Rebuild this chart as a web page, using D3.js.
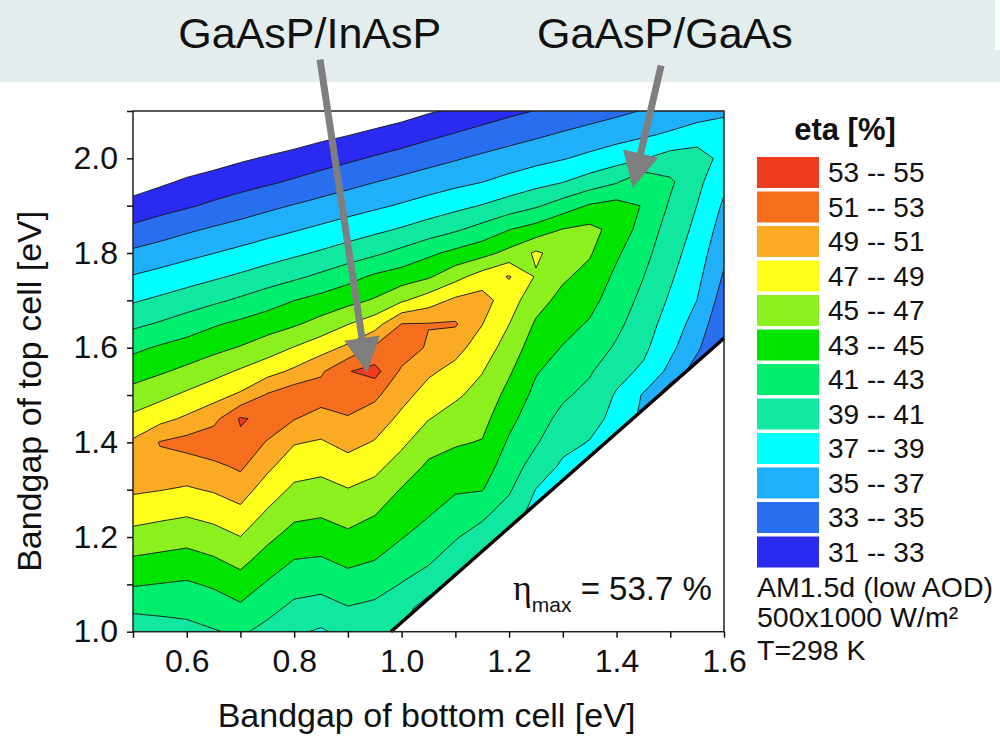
<!DOCTYPE html>
<html>
<head>
<meta charset="utf-8">
<script src="https://cdn.jsdelivr.net/npm/d3@7"></script>
<style>
  body { margin: 0; background: #fff; }
  svg { display: block; font-family: "Liberation Sans", Arial, sans-serif; }
  .tick text { font-family: "Liberation Sans", Arial, sans-serif; font-size: 32px; fill: #111; }
  .tick line { stroke: #111; stroke-width: 1.5; }
</style>
</head>
<body>
<svg width="1000" height="740"></svg>
<script>
// grid of the simulation: bottom cell gap (columns) and top cell gap (rows), eV
const bottomGap = [0.50, 0.55, 0.60, 0.65, 0.70, 0.75, 0.80, 0.85, 0.90, 0.95, 1.00, 1.05,
                   1.10, 1.15, 1.20, 1.25, 1.30, 1.35, 1.40, 1.45, 1.50, 1.55, 1.60];
const topGap = [1.00, 1.05, 1.10, 1.15, 1.20, 1.25, 1.30, 1.35, 1.40, 1.45, 1.50, 1.55,
                1.60, 1.65, 1.70, 1.75, 1.80, 1.85, 1.90, 1.95, 2.00, 2.05, 2.10];

// efficiency [%], one row per top gap (bottom row first)
const etaGrid = [
  [39.7, 40.04, 40.38, 40.86, 41.3, 40.4, 39.3, 38.75, 39.6, 39.8, 39.0, 38.0, 37.5, 37.0, 36.5, 35.5, 35.0, 34.5, 34.0, 33.0, 32.0, 31.5, 31.0],
  [41.4, 41.5, 41.57, 42.02, 42.65, 41.6, 40.55, 40.19, 40.9, 40.57, 39.96, 37.8, 38.0, 37.5, 37.0, 36.0, 35.5, 35.0, 34.5, 33.5, 32.3, 31.8, 31.2],
  [43.16, 42.94, 42.76, 43.24, 44.1, 42.77, 41.75, 41.58, 42.16, 41.77, 40.91, 40.2, 39.2, 38.3, 37.6, 36.5, 36.0, 35.5, 35.0, 34.0, 32.6, 32.1, 31.4],
  [44.7, 44.45, 44.19, 44.73, 45.56, 44.11, 42.93, 42.78, 43.4, 42.98, 42.01, 41.2, 40.17, 39.3, 38.3, 37.0, 36.5, 36.0, 35.5, 34.5, 32.9, 32.4, 31.6],
  [46.3, 45.98, 45.7, 46.19, 46.97, 45.46, 44.22, 44.01, 44.6, 44.03, 43.09, 42.2, 41.14, 40.25, 38.5, 37.6, 37.0, 36.5, 36.0, 35.0, 33.2, 32.7, 31.8],
  [47.84, 47.52, 47.22, 47.68, 48.46, 46.72, 45.46, 45.22, 45.76, 45.1, 43.98, 43.15, 42.18, 41.39, 40.19, 38.2, 37.5, 37.0, 36.5, 35.5, 33.4, 32.95, 32.0],
  [49.3, 49.06, 48.78, 49.19, 49.91, 48.07, 46.61, 46.35, 46.91, 46.32, 44.87, 43.92, 43.2, 43.09, 41.24, 38.95, 38.0, 37.5, 37.0, 36.0, 33.5, 33.3, 32.1],
  [50.6, 50.5, 50.16, 50.58, 51.35, 49.44, 47.85, 47.54, 48.26, 47.57, 46.15, 44.69, 44.2, 44.0, 41.99, 40.18, 38.68, 38.0, 37.5, 36.3, 33.5, 33.6, 32.2],
  [49.3, 51.1, 51.7, 52.4, 52.6, 50.83, 49.14, 48.82, 49.58, 48.87, 47.41, 45.78, 45.2, 44.89, 42.74, 41.19, 39.57, 38.91, 38.0, 36.4, 33.5, 33.8, 32.3],
  [47.45, 48.37, 49.34, 50.35, 53.2, 52.5, 51.1, 50.13, 50.83, 50.02, 48.56, 47.07, 46.24, 45.63, 43.55, 41.84, 40.45, 39.68, 38.44, 36.5, 33.5, 34.0, 32.4],
  [45.73, 46.47, 47.36, 48.31, 49.3, 51.2, 52.3, 51.96, 52.1, 51.4, 49.63, 48.23, 47.29, 46.34, 44.39, 42.48, 41.3, 40.44, 38.8, 36.82, 33.5, 34.0, 32.5],
  [44.16, 44.76, 45.45, 46.29, 47.25, 48.26, 49.38, 50.7, 52.9, 53.7, 50.65, 49.32, 48.42, 47.08, 45.25, 43.16, 42.1, 41.21, 39.67, 38.64, 36.47, 34.0, 32.6],
  [42.55, 43.24, 43.81, 44.45, 45.13, 46.02, 47.09, 48.21, 49.4, 51.3, 52.3, 50.7, 49.64, 48.06, 46.13, 43.95, 42.9, 42.01, 40.76, 39.43, 37.49, 35.36, 32.6],
  [40.57, 41.2, 41.96, 42.78, 43.43, 44.07, 44.75, 45.7, 46.94, 48.12, 51.05, 51.1, 51.2, 49.05, 47.02, 44.75, 43.67, 42.81, 41.44, 39.96, 38.11, 36.18, 33.33],
  [38.8, 39.36, 39.96, 40.62, 41.32, 42.14, 42.98, 43.68, 44.37, 45.2, 46.71, 48.03, 49.4, 49.8, 47.9, 45.74, 44.42, 43.6, 42.01, 40.5, 38.73, 36.98, 34.06],
  [37.13, 37.64, 38.17, 38.72, 39.31, 39.96, 40.63, 41.41, 42.32, 43.33, 43.96, 44.76, 46.33, 47.91, 49.15, 46.83, 45.28, 44.39, 42.58, 41.03, 39.27, 37.5, 34.78],
  [35.39, 35.91, 36.45, 36.97, 37.5, 38.07, 38.64, 39.25, 39.94, 40.65, 41.54, 42.59, 43.5, 44.3, 45.57, 47.3, 46.1, 45.2, 43.3, 41.6, 39.76, 38.0, 35.44],
  [33.41, 34.04, 34.68, 35.24, 35.76, 36.31, 36.83, 37.37, 37.94, 38.54, 39.18, 39.93, 40.71, 41.71, 42.93, 43.79, 45.05, 45.5, 44.4, 42.1, 40.25, 38.5, 36.08],
  [31.67, 32.25, 32.76, 33.35, 33.94, 34.55, 35.1, 35.64, 36.15, 36.66, 37.2, 37.8, 38.43, 39.1, 39.9, 40.74, 41.92, 43.2, 43.7, 42.9, 40.75, 38.97, 36.71],
  [30.0, 30.67, 31.29, 31.78, 32.25, 32.72, 33.26, 33.85, 34.43, 34.97, 35.49, 36.0, 36.5, 36.98, 37.64, 38.32, 38.95, 39.89, 40.83, 42.6, 41.3, 39.5, 37.43],
  [28.3, 29.0, 29.8, 30.2, 30.73, 31.18, 31.63, 32.13, 32.66, 33.21, 33.77, 34.31, 34.83, 35.36, 35.85, 36.37, 36.87, 37.49, 38.18, 38.9, 39.82, 39.9, 38.4],
  [26.7, 27.3, 28.2, 28.5, 29.1, 29.6, 30.0, 30.5, 30.93, 31.43, 31.94, 32.57, 33.14, 33.7, 34.21, 34.7, 35.23, 35.72, 36.21, 36.71, 37.29, 38.02, 38.3],
  [25.0, 25.7, 26.6, 26.9, 27.4, 27.9, 28.3, 28.8, 29.2, 29.7, 30.17, 30.8, 31.3, 32.0, 32.57, 33.05, 33.57, 34.07, 34.57, 35.1, 35.53, 36.03, 36.53]
];

const thresholds = [31, 33, 35, 37, 39, 41, 43, 45, 47, 49, 51, 53];
const bandColors = ['#2a2af0', '#2a6ef0', '#20b0fa', '#00ffff', '#10e8a0', '#00ee6e',
                    '#00e400', '#8cf01e', '#ffff1e', '#faaa23', '#f56e1e', '#f03c1e'];

const xMajor = [0.6, 0.8, 1.0, 1.2, 1.4, 1.6];
const xMinor = [0.5, 0.7, 0.9, 1.1, 1.3, 1.5];
const yMajor = [1.0, 1.2, 1.4, 1.6, 1.8, 2.0];
const yMinor = [1.1, 1.3, 1.5, 1.7, 1.9, 2.1];

// top cell gap must exceed bottom gap: region below this line is empty
const limitLine = [[0.98, 1.0], [1.6, 1.62]];

const notes = [
  {label: 'GaAsP/InAsP', at: [0.829, 2.234], tail: [0.848, 2.209], tip: [0.936, 1.547]},
  {label: 'GaAsP/GaAs', at: [1.49, 2.234], tail: [1.483, 2.196], tip: [1.43, 1.938]}
];
const conditions = ['AM1.5d (low AOD)', '500x1000 W/m²', 'T=298 K'];

const svg = d3.select('svg');

// grey banner on top
svg.append('rect').attr('x', 0).attr('y', 0).attr('width', 1000).attr('height', 82).attr('fill', '#e4eded');
svg.append('rect').attr('x', 995).attr('y', 0).attr('width', 5).attr('height', 50).attr('fill', '#fff');

const pLeft = 133, pRight = 724, pTop = 111, pBottom = 631.7;
const x = d3.scaleLinear().domain([0.5, 1.6]).range([pLeft, pRight]);
const y = d3.scaleLinear().domain([1.0, 2.1]).range([pBottom, pTop]);

// clip: plot box above the limit line
const clipPts = [[0.5, 1.0], limitLine[0], limitLine[1], [1.6, 2.1], [0.5, 2.1]];
svg.append('clipPath').attr('id', 'plotclip')
  .append('path')
  .attr('d', d3.line().x(d => x(d[0])).y(d => y(d[1]))(clipPts) + 'Z');

const nx = bottomGap.length, ny = topGap.length;
const dxs = bottomGap[1] - bottomGap[0], dys = topGap[1] - topGap[0];
const contours = d3.contours().size([nx, ny]).thresholds(thresholds)(etaGrid.flat());

const proj = d3.geoTransform({
  point: function(gx, gy) {
    this.stream.point(x(bottomGap[0] + (gx - 0.5) * dxs), y(topGap[0] + (gy - 0.5) * dys));
  }
});
const path = d3.geoPath(proj);

const chart = svg.append('g').attr('clip-path', 'url(#plotclip)');
chart.selectAll('path.band')
  .data(contours)
  .enter()
  .append('path')
  .attr('class', 'band')
  .attr('d', path)
  .attr('fill', (d, i) => bandColors[i])
  .attr('stroke', '#151515')
  .attr('stroke-width', 0.9)
  .attr('stroke-linejoin', 'round');

// limit line
svg.append('line')
  .attr('x1', x(limitLine[0][0])).attr('y1', y(limitLine[0][1]))
  .attr('x2', x(limitLine[1][0])).attr('y2', y(limitLine[1][1]))
  .attr('stroke', '#000').attr('stroke-width', 3.5);

// frame
svg.append('rect')
  .attr('x', pLeft).attr('y', pTop)
  .attr('width', pRight - pLeft).attr('height', pBottom - pTop)
  .attr('fill', 'none').attr('stroke', '#222').attr('stroke-width', 1.5);

// axes
const gx1 = svg.append('g').attr('transform', `translate(0, ${pBottom})`)
  .call(d3.axisBottom(x).tickValues(xMajor).tickSize(6).tickPadding(12).tickFormat(d3.format('.1f')));
const gx2 = svg.append('g').attr('transform', `translate(0, ${pBottom})`)
  .call(d3.axisBottom(x).tickValues(xMinor).tickSize(6).tickFormat(''));
const gy1 = svg.append('g').attr('transform', `translate(${pLeft}, 0)`)
  .call(d3.axisLeft(y).tickValues(yMajor).tickSize(6).tickPadding(9).tickFormat(d3.format('.1f')));
const gy2 = svg.append('g').attr('transform', `translate(${pLeft}, 0)`)
  .call(d3.axisLeft(y).tickValues(yMinor).tickSize(6).tickFormat(''));
[gx1, gx2, gy1, gy2].forEach(g => g.select('.domain').remove());

svg.append('text')
  .attr('x', (pLeft + pRight) / 2 - 2).attr('y', 727)
  .attr('text-anchor', 'middle')
  .attr('font-size', 34).attr('fill', '#111')
  .text('Bandgap of bottom cell [eV]');

svg.append('text')
  .attr('transform', `translate(41, ${(pTop + pBottom) / 2 + 20}) rotate(-90)`)
  .attr('text-anchor', 'middle')
  .attr('font-size', 34).attr('fill', '#111')
  .text('Bandgap of top cell [eV]');

// eta max label
const em = svg.append('text').attr('x', 513).attr('y', 600).attr('font-size', 33).attr('fill', '#111');
em.append('tspan').attr('font-family', '"Liberation Serif", serif').attr('font-size', 36).text('η');
em.append('tspan').attr('font-size', 21).attr('dy', 12).text('max');
em.append('tspan').attr('dy', -12).text(' = 53.7 %');

// legend
const legend = svg.append('g');
legend.append('text')
  .attr('x', 845).attr('y', 140)
  .attr('text-anchor', 'middle')
  .attr('font-size', 31).attr('font-weight', 'bold').attr('fill', '#111')
  .text('eta [%]');

const rows = thresholds.slice().reverse();
const legendRows = legend.selectAll('g.row')
  .data(rows)
  .enter()
  .append('g')
  .attr('class', 'row')
  .attr('transform', (d, i) => `translate(757, ${157 + i * 34.5})`);

legendRows.append('rect')
  .attr('width', 62).attr('height', 31)
  .attr('fill', d => bandColors[thresholds.indexOf(d)]);

legendRows.append('text')
  .attr('x', 71).attr('y', 25)
  .attr('font-size', 28).attr('fill', '#111')
  .text(d => `${d} -- ${d + 2}`);

legend.selectAll('text.cond')
  .data(conditions)
  .enter()
  .append('text')
  .attr('class', 'cond')
  .attr('x', 757)
  .attr('y', (d, i) => [597, 627, 660][i])
  .attr('font-size', 28.5).attr('fill', '#111')
  .text(d => d);

// arrows with labels
notes.forEach(n => {
  const tx = x(n.tail[0]), ty = y(n.tail[1]);
  const px = x(n.tip[0]), py = y(n.tip[1]);
  const len = Math.hypot(px - tx, py - ty);
  const ux = (px - tx) / len, uy = (py - ty) / len;
  const bx = px - ux * 35, by = py - uy * 35;
  svg.append('line')
    .attr('x1', tx).attr('y1', ty).attr('x2', bx + ux * 2).attr('y2', by + uy * 2)
    .attr('stroke', '#7f7f7f').attr('stroke-width', 7);
  svg.append('polygon')
    .attr('points', [[px, py], [bx - uy * 18, by + ux * 18], [bx + uy * 18, by - ux * 18]].map(p => p.join(',')).join(' '))
    .attr('fill', '#7f7f7f');
  svg.append('text')
    .attr('x', x(n.at[0])).attr('y', y(n.at[1]))
    .attr('text-anchor', 'middle')
    .attr('font-size', 43).attr('fill', '#111')
    .text(n.label);
});
</script>
</body>
</html>
